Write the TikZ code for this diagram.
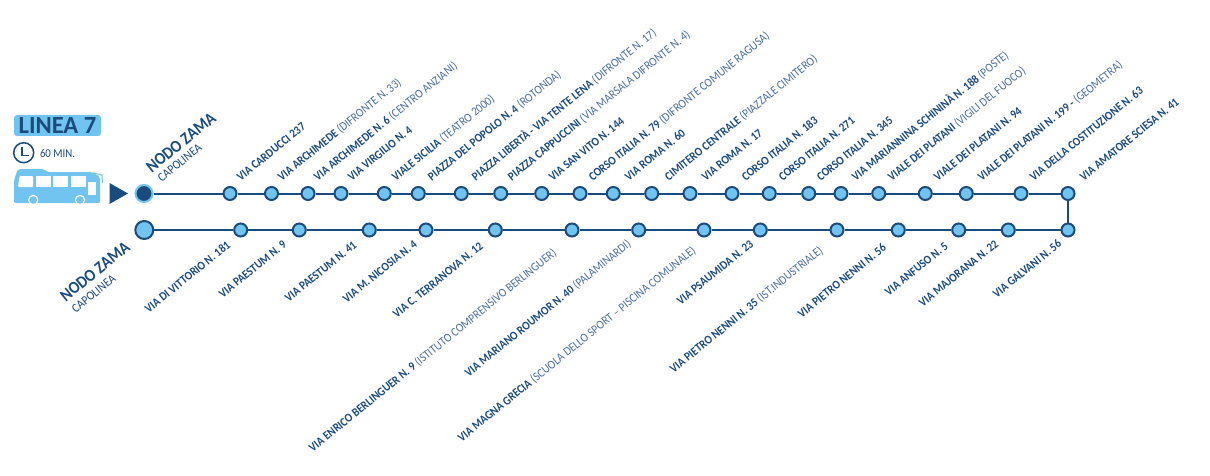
\documentclass[tikz,border=0pt]{standalone}
\usepackage{fontspec}
\setmainfont{Carlito}[FakeStretch = 0.9]
\newfontfamily\titlefont{Carlito}
\definecolor{linedark}{HTML}{1B4A7C}
\definecolor{linelight}{HTML}{72C4F0}
\definecolor{notegray}{HTML}{4A6E9A}
\newcommand{\stopnote}[1]{{\fontsize{12.3}{13}\selectfont\mdseries\color{notegray}#1}}
\begin{document}
\begin{tikzpicture}[x = 1pt, y = -1pt, line width = 2pt,
                        stopdot/.style = {circle, draw = linedark, fill = linelight, inner sep = 0pt, minimum size = 13pt},
                        enddot/.style = {circle, draw = linedark, fill = linelight, inner sep = 0pt, minimum size = 18pt},
                        startdot/.style = {circle, draw = linelight, fill = linedark, inner sep = 0pt, minimum size = 17pt},
                        stoplabel/.style = {shift = {(3, 1)}, anchor = base west, inner sep = 0pt, rotate = 39, text = linedark, font = \fontsize{12.1}{13}\selectfont\bfseries},
                        endname/.style = {shift = {(3, 1)}, anchor = base west, inner sep = 0pt, rotate = 39, text = linedark, font = \fontsize{17.2}{18}\selectfont\bfseries},
                        endnote/.style = {shift = {(3, 1)}, anchor = base west, inner sep = 0pt, rotate = 39, text = linedark, font = \fontsize{12.5}{13}\selectfont}]
      \useasboundingbox (0, 0) rectangle (1210, 476);
      \node [fill = linelight, rounded corners = 3pt, minimum width = 87pt, minimum height = 21pt, inner sep = 0pt, text = linedark, font = \fontsize{24.6}{25}\titlefont\bfseries] (title) at (57.5, 125.5){LINEA 7};
      \node [circle, draw = linedark, minimum size = 20pt, inner sep = 0pt, line width = 1.5pt] (clock) at (23.7, 152.7){};
      \node [anchor = west, inner sep = 0pt, text = linedark, font = \fontsize{12}{13}\selectfont] (time) at (39, 153){60 MIN.};
      \draw [linedark, line width = 1.5pt] (22, 147) -- (22, 155.5) -- (29, 155.5);
      \fill [linelight, rounded corners = 2pt] (14, 203) -- (14, 180) -- (18, 169) -- (44, 169) -- (47, 172) -- (92, 172) -- (100, 177) -- (100, 203) -- cycle;
      \fill [white, rounded corners = 1pt] (18, 187) -- (19.5, 176) -- (33, 176) -- (33, 187) -- cycle;
      \fill [white] (36, 176) rectangle (51, 187);
      \fill [white] (53, 176) rectangle (68, 187);
      \fill [white] (71, 176) rectangle (86, 187);
      \fill [white] (88, 182) rectangle (96, 195);
      \draw [linelight, line width = 1pt] (93, 173) -- (102, 175) -- (102.5, 183);
      \draw [white, line width = 1.2pt, fill = linelight] (33.3, 200) circle (4.6);
      \draw [white, line width = 1.2pt, fill = linelight] (80, 200) circle (4.6);
      \fill [linedark] (109.5, 183) -- (128, 193.5) -- (109.5, 204) -- cycle;
      \node [startdot] (a0) at (144, 193.5){};
      \node [stopdot] (a1) at (230, 193.5){};
      \node [stopdot] (a2) at (271.5, 193.5){};
      \node [stopdot] (a3) at (308, 193.5){};
      \node [stopdot] (a4) at (341, 193.5){};
      \node [stopdot] (a5) at (384.3, 193.5){};
      \node [stopdot] (a6) at (418.3, 193.5){};
      \node [stopdot] (a7) at (461.3, 193.5){};
      \node [stopdot] (a8) at (500.7, 193.5){};
      \node [stopdot] (a9) at (541.7, 193.5){};
      \node [stopdot] (a10) at (580, 193.5){};
      \node [stopdot] (a11) at (613.3, 193.5){};
      \node [stopdot] (a12) at (651.7, 193.5){};
      \node [stopdot] (a13) at (690, 193.5){};
      \node [stopdot] (a14) at (732, 193.5){};
      \node [stopdot] (a15) at (769.3, 193.5){};
      \node [stopdot] (a16) at (808.7, 193.5){};
      \node [stopdot] (a17) at (841, 193.5){};
      \node [stopdot] (a18) at (878.7, 193.5){};
      \node [stopdot] (a19) at (925.3, 193.5){};
      \node [stopdot] (a20) at (966.3, 193.5){};
      \node [stopdot] (a21) at (1021, 193.5){};
      \node [stopdot] (a22) at (1068, 193.5){};
      \node [enddot] (b0) at (144.3, 230){};
      \node [stopdot] (b1) at (240.7, 230){};
      \node [stopdot] (b2) at (299.3, 230){};
      \node [stopdot] (b3) at (369.3, 230){};
      \node [stopdot] (b4) at (426, 230){};
      \node [stopdot] (b5) at (495.3, 230){};
      \node [stopdot] (b6) at (572, 230){};
      \node [stopdot] (b7) at (638.7, 230){};
      \node [stopdot] (b8) at (704, 230){};
      \node [stopdot] (b9) at (760.3, 230){};
      \node [stopdot] (b10) at (837, 230){};
      \node [stopdot] (b11) at (898.3, 230){};
      \node [stopdot] (b12) at (958.7, 230){};
      \node [stopdot] (b13) at (1008.3, 230){};
      \node [stopdot] (b14) at (1068, 230){};
      \draw [linedark] (a0) -- (a1) -- (a2) -- (a3) -- (a4) -- (a5) -- (a6) -- (a7) -- (a8) -- (a9) -- (a10) -- (a11) -- (a12) -- (a13) -- (a14) -- (a15) -- (a16) -- (a17) -- (a18) -- (a19) -- (a20) -- (a21) -- (a22);
      \draw [linedark] (a22) -- (b14);
      \draw [linedark] (b0) -- (b1) -- (b2) -- (b3) -- (b4) -- (b5) -- (b6) -- (b7) -- (b8) -- (b9) -- (b10) -- (b11) -- (b12) -- (b13) -- (b14);
      \node [endname] (aname) at (148, 173){NODO ZAMA};
      \node [endnote] (anote) at (158, 182){CAPOLINEA};
      \node [endname] (bname) at (62, 302){NODO ZAMA};
      \node [endnote] (bnote) at (72, 313){CAPOLINEA};
      \node [stoplabel] (la1) at (237, 181){VIA CARDUCCI 237};
      \node [stoplabel] (la2) at (278, 181){VIA ARCHIMEDE \stopnote{(DIFRONTE N. 33)}};
      \node [stoplabel] (la3) at (314, 181){VIA ARCHIMEDE N. 6 \stopnote{(CENTRO ANZIANI)}};
      \node [stoplabel] (la4) at (348, 181){VIA VIRGILIO N. 4};
      \node [stoplabel] (la5) at (392, 181){VIALE SICILIA \stopnote{(TEATRO 2000)}};
      \node [stoplabel] (la6) at (428, 181){PIAZZA DEL POPOLO N. 4 \stopnote{(ROTONDA)}};
      \node [stoplabel] (la7) at (472, 181){PIAZZA LIBERTÀ - VIA TENTE LENA \stopnote{(DIFRONTE N. 17)}};
      \node [stoplabel] (la8) at (508, 181){PIAZZA CAPPUCCINI \stopnote{(VIA MARSALA DIFRONTE N. 4)}};
      \node [stoplabel] (la9) at (549, 181){VIA SAN VITO N. 144};
      \node [stoplabel] (la10) at (589, 181){CORSO ITALIA N. 79 \stopnote{(DIFRONTE COMUNE RAGUSA)}};
      \node [stoplabel] (la11) at (625, 181){VIA ROMA N. 60};
      \node [stoplabel] (la12) at (665, 181){CIMITERO CENTRALE \stopnote{(PIAZZALE CIMITERO)}};
      \node [stoplabel] (la13) at (702, 181){VIA ROMA N. 17};
      \node [stoplabel] (la14) at (742, 181){CORSO ITALIA N. 183};
      \node [stoplabel] (la15) at (779, 181){CORSO ITALIA N. 271};
      \node [stoplabel] (la16) at (817, 181){CORSO ITALIA N. 345};
      \node [stoplabel] (la17) at (852, 181){VIA MARIANNINA SCHININÀ N. 188 \stopnote{(POSTE)}};
      \node [stoplabel] (la18) at (888, 181){VIALE DEI PLATANI \stopnote{(VIGILI DEL FUOCO)}};
      \node [stoplabel] (la19) at (934, 181){VIALE DEI PLATANI N. 94};
      \node [stoplabel] (la20) at (978, 181){VIALE DEI PLATANI N. 199 - \stopnote{(GEOMETRA)}};
      \node [stoplabel] (la21) at (1030, 181){VIA DELLA COSTITUZIONE N. 63};
      \node [stoplabel] (la22) at (1080, 181){VIA AMATORE SCIESA N. 41};
      \node [stoplabel] (lb1) at (145, 313){VIA DI VITTORIO N. 181};
      \node [stoplabel] (lb2) at (219, 298){VIA PAESTUM N. 9};
      \node [stoplabel] (lb3) at (285, 302){VIA PAESTUM N. 41};
      \node [stoplabel] (lb4) at (343, 303){VIA M. NICOSIA N. 4};
      \node [stoplabel] (lb5) at (393, 318){VIA C. TERRANOVA N. 12};
      \node [stoplabel] (lb6) at (309, 452){VIA ENRICO BERLINGUER N. 9 \stopnote{(ISTITUTO COMPRENSIVO BERLINGUER)}};
      \node [stoplabel] (lb7) at (465, 377){VIA MARIANO ROUMOR N. 40 \stopnote{(PALAMINARDI)}};
      \node [stoplabel] (lb8) at (458, 442){VIA MAGNA GRECIA \stopnote{(SCUOLA DELLO SPORT – PISCINA COMUNALE)}};
      \node [stoplabel] (lb9) at (677, 305){VIA PSAUMIDA N. 23};
      \node [stoplabel] (lb10) at (670, 373){VIA PIETRO NENNI N. 35 \stopnote{(IST.INDUSTRIALE)}};
      \node [stoplabel] (lb11) at (798, 318){VIA PIETRO NENNI N. 56};
      \node [stoplabel] (lb12) at (885, 296){VIA ANFUSO N. 5};
      \node [stoplabel] (lb13) at (919, 307){VIA MAJORANA N. 22};
      \node [stoplabel] (lb14) at (993, 298){VIA GALVANI N. 56};
    \end{tikzpicture}
\end{document}
